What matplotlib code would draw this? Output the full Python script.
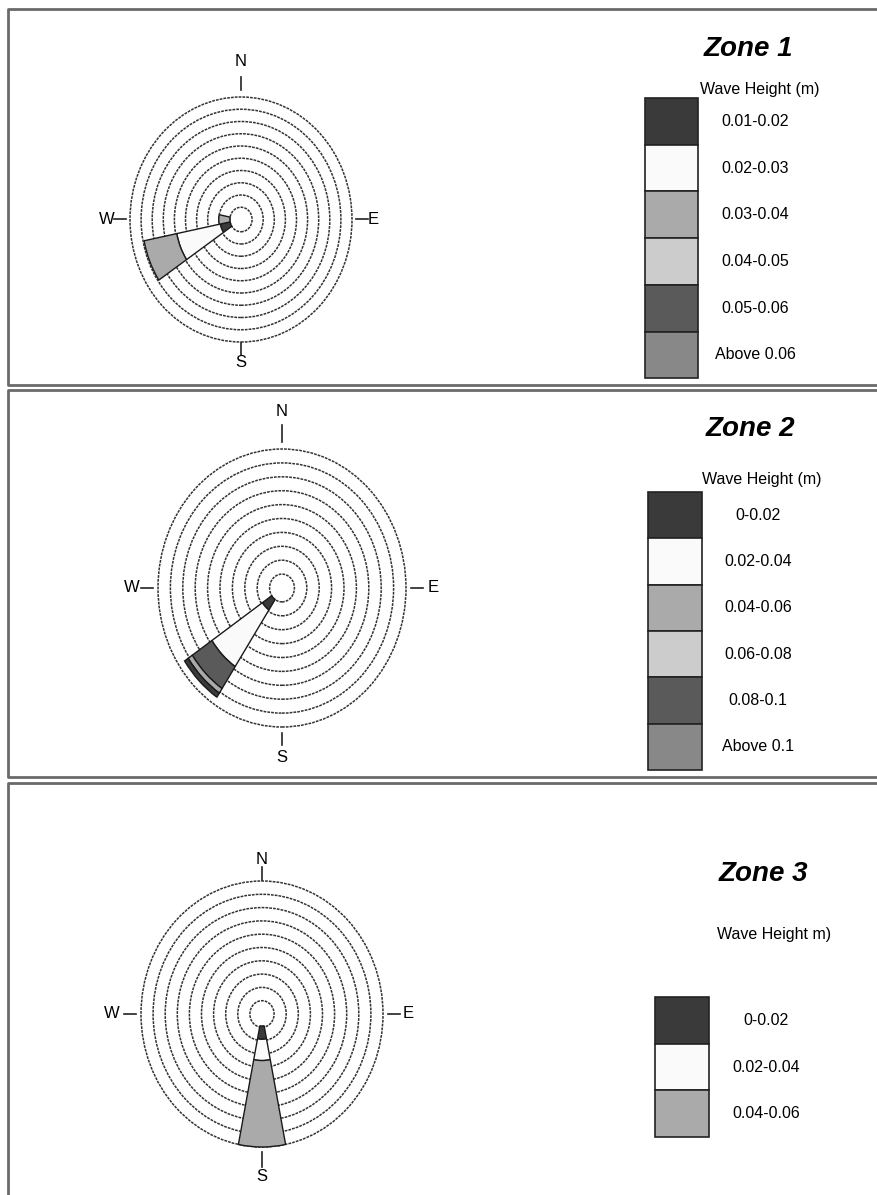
import matplotlib
matplotlib.use('Agg')
import matplotlib.pyplot as plt
from matplotlib.patches import Wedge, Circle, Rectangle

plt.rcParams['font.family'] = ['Liberation Sans', 'DejaVu Sans']

# wave height classes and their fill colours
z1_bins = ['0.01-0.02', '0.02-0.03', '0.03-0.04', '0.04-0.05', '0.05-0.06', 'Above 0.06']
z2_bins = ['0-0.02', '0.02-0.04', '0.04-0.06', '0.06-0.08', '0.08-0.1', 'Above 0.1']
z3_bins = ['0-0.02', '0.02-0.04', '0.04-0.06']
cls_colors = ['#3a3a3a', '#fafafa', '#aaaaaa', '#cccccc', '#5a5a5a', '#888888']

# rose segments: direction (deg from N), class index, inner / outer radius (ring units)
z1_dir = [247.5, 247.5, 247.5, 270.0]
z1_cls = [0, 1, 2, 2]
z1_r0 = [1.0, 1.9, 5.9, 1.0]
z1_r1 = [1.9, 5.9, 8.9, 2.0]

z2_dir = [225.0, 225.0, 225.0, 225.0, 225.0]
z2_cls = [0, 1, 4, 2, 0]
z2_r0 = [1.0, 1.9, 6.8, 8.7, 9.1]
z2_r1 = [1.9, 6.8, 8.7, 9.1, 9.45]

z3_dir = [180.0, 180.0, 180.0]
z3_cls = [0, 1, 2]
z3_r0 = [0.9, 1.9, 3.5]
z3_r1 = [1.9, 3.5, 10.0]

rings = [1, 2, 3, 4, 5, 6, 7, 8, 9, 10]

W, H = 877, 1195
fig = plt.figure(figsize=(W / 100, H / 100), dpi=100)

# overlay in pixel coords for panel frames and legends
bg = fig.add_axes([0, 0, 1, 1])
bg.set_xlim(0, W)
bg.set_ylim(H, 0)
bg.axis('off')

frame_kw = dict(color='#6a6a6a', lw=2.0)
for top, bot in [(9, 385), (390, 777), (783, 1200)]:
    bg.plot([W + 5, 7.5, 7.5, W + 5], [top, top, bot, bot], **frame_kw)


def legend(title, title_xy, sub, sub_xy, bins, box_x, box_top, box_h, lab_x):
    bg.text(*title_xy, title, fontsize=20, fontweight='bold', fontstyle='italic',
            ha='center', va='center')
    bg.text(*sub_xy, sub, fontsize=11.5, ha='center', va='center')
    for i, lab in enumerate(bins):
        y = box_top + i * box_h
        bg.add_patch(Rectangle((box_x[0], y), box_x[1] - box_x[0], box_h,
                               facecolor=cls_colors[i], edgecolor='#222222', lw=1.2))
        bg.text(lab_x, y + box_h / 2, lab, fontsize=11.5, ha='center', va='center')


legend('Zone 1', (748, 49), 'Wave Height (m)', (760, 89), z1_bins, (645, 698), 98, 46.7, 755)
legend('Zone 2', (750, 429), 'Wave Height (m)', (762, 479), z2_bins, (648, 702), 492, 46.3, 758)
legend('Zone 3', (763, 874), 'Wave Height m)', (774, 934), z3_bins, (655, 709), 997, 46.7, 766)


def rose(cx, cy, rx, ry, dirs, cls, r0, r1, lab):
    ux, uy = rx / 10, ry / 10
    ext = 13.8
    ax = fig.add_axes([(cx - ext * ux) / W, (H - cy - ext * uy) / H,
                       2 * ext * ux / W, 2 * ext * uy / H])
    ax.set_xlim(-ext, ext)
    ax.set_ylim(-ext, ext)
    ax.axis('off')
    ax.patch.set_alpha(0)
    for r in rings:
        ax.add_patch(Circle((0, 0), r, fill=False, ec='#333333', lw=1.1,
                            ls=(0, (1.8, 0.7))))
    for d, c, a, b in zip(dirs, cls, r0, r1):
        ang = 90 - d
        ax.add_patch(Wedge((0, 0), b, ang - 11.25, ang + 11.25, width=b - a,
                           facecolor=cls_colors[c], edgecolor='#1a1a1a', lw=1.0, zorder=3))
    # compass marks
    n_tick, n_lab, s_tick, s_lab, w_lab, e_lab = lab
    ax.plot([0, 0], n_tick, color='#222222', lw=1.2)
    ax.plot([0, 0], [-s_tick[0], -s_tick[1]], color='#222222', lw=1.2)
    ax.plot([-10.4, -11.4], [0, 0], color='#222222', lw=1.2)
    ax.plot([10.4, 11.4], [0, 0], color='#222222', lw=1.2)
    kw = dict(fontsize=12, ha='center', va='center')
    ax.text(0, n_lab, 'N', **kw)
    ax.text(0, -s_lab, 'S', **kw)
    ax.text(-w_lab, 0, 'W', **kw)
    ax.text(e_lab, 0, 'E', **kw)


rose(241, 219.5, 111, 122.5, z1_dir, z1_cls, z1_r0, z1_r1,
     ([10.6, 11.6], 12.9, [10.1, 11.1], 11.7, 12.1, 11.9))
rose(282, 588, 124, 139, z2_dir, z2_cls, z2_r0, z2_r1,
     ([10.5, 11.7], 12.7, [10.4, 11.3], 12.2, 12.1, 12.2))
rose(262, 1014, 121, 133, z3_dir, z3_cls, z3_r0, z3_r1,
     ([10.1, 11.05], 11.65, [10.4, 11.5], 12.25, 12.4, 12.1))

fig.savefig('out.png', dpi=100)
